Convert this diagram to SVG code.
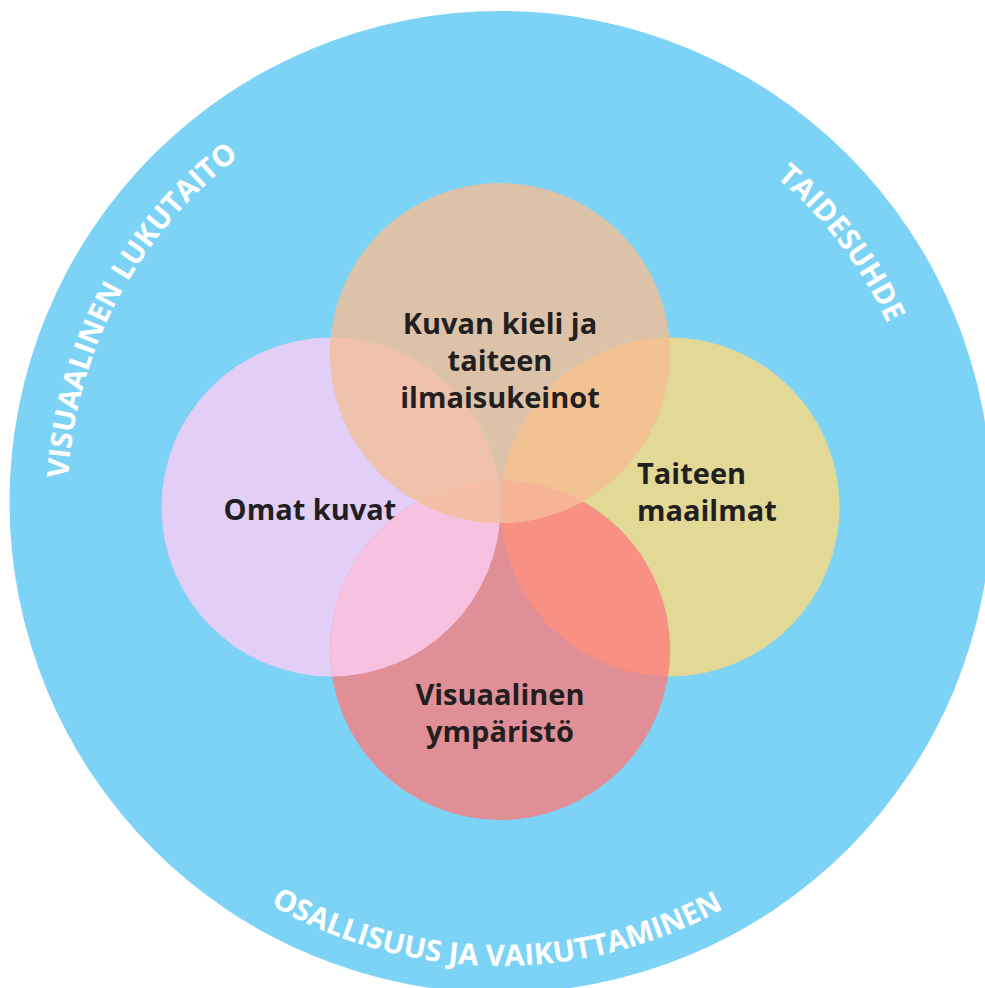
<svg xmlns="http://www.w3.org/2000/svg" xmlns:xlink="http://www.w3.org/1999/xlink" width="985" height="988" viewBox="0 0 985 988">
<style>
.lbl{font-family:"Open Sans","Liberation Sans",sans-serif;font-weight:700;font-size:29px;fill:#231f20}
.ring{font-family:"Open Sans","Liberation Sans",sans-serif;font-weight:700;font-size:29.5px;fill:#ffffff}
</style>
<defs>
<clipPath id="cL"><circle cx="331" cy="507" r="169.5"/></clipPath>
<clipPath id="cR"><circle cx="670" cy="507" r="169.5"/></clipPath>
<clipPath id="cB"><circle cx="500" cy="650" r="170"/></clipPath>
<path id="arcLeft" d="M 77.0 592.0 A 433 433 0 0 1 338.3 100.5"/>
<path id="arcRight" d="M 594.9 86.6 A 426 426 0 0 1 926.0 522.8"/>
<path id="arcBottom" d="M 142.5 797.1 A 464 464 0 0 0 853.3 803.3"/>
</defs>
<rect width="985" height="988" fill="#ffffff"/>
<g id="outer">
<circle cx="500.5" cy="502" r="491" fill="#7dd3f5"/>
<text class="ring"><textPath xlink:href="#arcLeft" href="#arcLeft" startOffset="50%" text-anchor="middle">VISUAALINEN LUKUTAITO</textPath></text>
<text class="ring"><textPath xlink:href="#arcRight" href="#arcRight" startOffset="50%" text-anchor="middle">TAIDESUHDE</textPath></text>
<text class="ring"><textPath xlink:href="#arcBottom" href="#arcBottom" startOffset="50%" text-anchor="middle">OSALLISUUS JA VAIKUTTAMINEN</textPath></text>
</g>
<g id="connectors"></g>
<g id="node-omat">
<circle cx="331" cy="507" r="169.5" fill="#e2cef6"/>
<text class="lbl" x="310" y="520" text-anchor="middle">Omat kuvat</text>
</g>
<g id="node-maailmat">
<circle cx="670" cy="507" r="169.5" fill="#e3d997"/>
<text class="lbl" x="637" y="484"><tspan x="637" y="484">Taiteen</tspan><tspan x="637" y="521">maailmat</tspan></text>
</g>
<g id="node-ymparisto">
<circle cx="500" cy="650" r="170" fill="#e18f97"/>
<circle cx="500" cy="650" r="170" fill="#f7c1e1" clip-path="url(#cL)"/>
<circle cx="500" cy="650" r="170" fill="#f89084" clip-path="url(#cR)"/>
<text class="lbl" text-anchor="middle"><tspan x="500" y="705">Visuaalinen</tspan><tspan x="500" y="742">ympäristö</tspan></text>
</g>
<g id="node-kieli">
<circle cx="500" cy="353" r="170" fill="#dbc2a9"/>
<circle cx="500" cy="353" r="170" fill="#f0c2ab" clip-path="url(#cL)"/>
<circle cx="500" cy="353" r="170" fill="#f3c293" clip-path="url(#cR)"/>
<g clip-path="url(#cB)">
<circle cx="500" cy="353" r="170" fill="#f5bfa7" clip-path="url(#cL)"/>
<circle cx="500" cy="353" r="170" fill="#f6b396" clip-path="url(#cR)"/>
</g>
<text class="lbl" text-anchor="middle"><tspan x="500" y="334">Kuvan kieli ja</tspan><tspan x="500" y="371">taiteen</tspan><tspan x="500" y="408">ilmaisukeinot</tspan></text>
</g>
</svg>
